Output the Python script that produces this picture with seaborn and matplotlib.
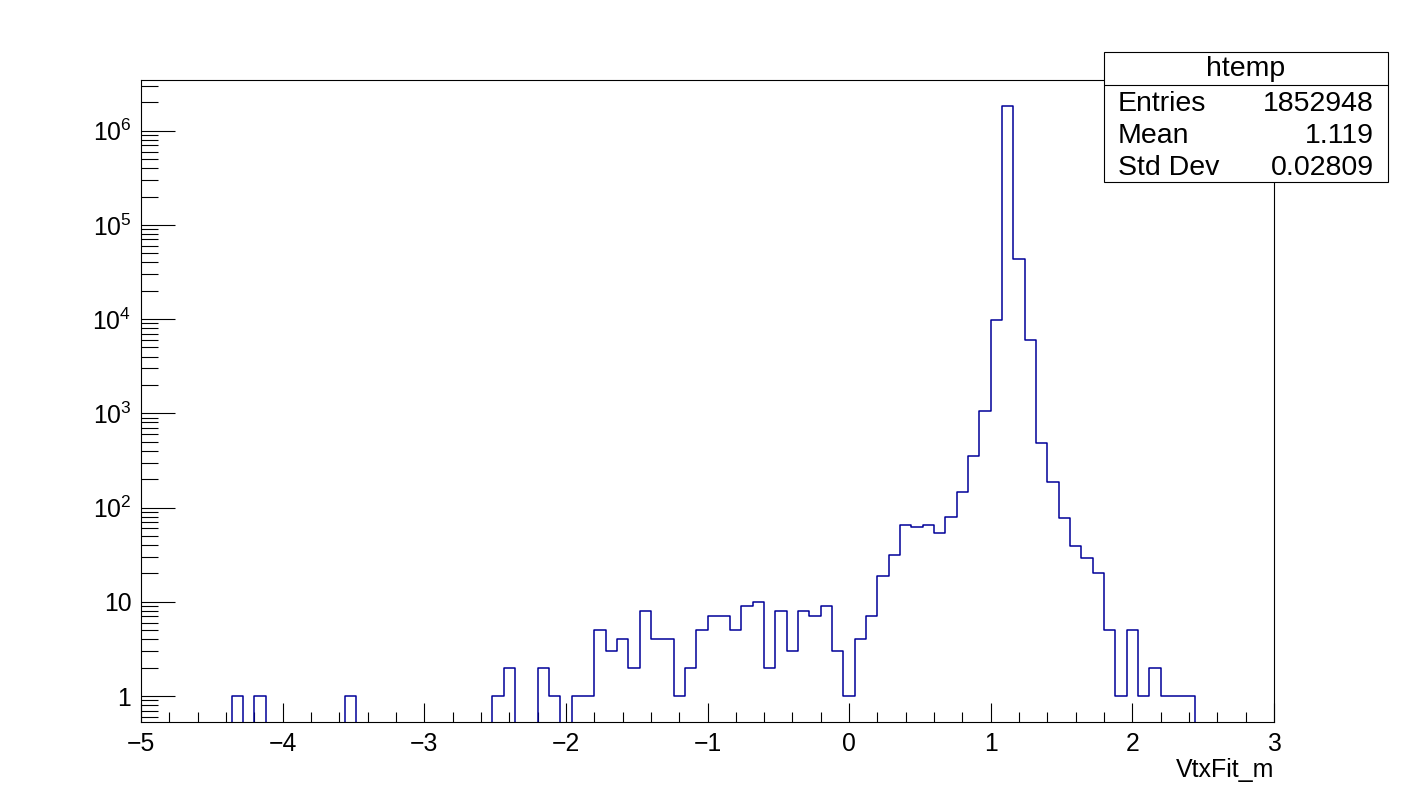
import numpy as np
import pandas as pd
import matplotlib
matplotlib.use("Agg")
import matplotlib.pyplot as plt
import matplotlib.ticker as mticker
from matplotlib.patches import Rectangle
import seaborn as sns

# histogram htemp: 100 bins of VtxFit_m between -5 and 3
x_lo, x_hi, n_bins = -5.0, 3.0, 100
counts = [
    0, 0, 0, 0, 0, 0, 0, 0, 1, 0,
    1, 0, 0, 0, 0, 0, 0, 0, 1, 0,
    0, 0, 0, 0, 0, 0, 0, 0, 0, 0,
    0, 1, 2, 0, 0, 2, 1, 0, 1, 1,
    5, 3, 4, 2, 8, 4, 4, 1, 2, 5,
    7, 7, 5, 9, 10, 2, 8, 3, 8, 7,
    9, 3, 1, 4, 7, 19, 31, 65, 62, 65,
    54, 79, 145, 350, 1050, 9800, 1830000, 43000, 6000, 480,
    186, 77, 39, 29, 20, 5, 1, 5, 1, 2,
    1, 1, 1, 0, 0, 0, 0, 0, 0, 0,
]

stats_title = "htemp"
stats_names = ["Entries", "Mean", "Std Dev"]
stats_values = ["1852948", "1.119", "0.02809"]

y_labels = ["1", "10", r"$\mathregular{10^{2}}$", r"$\mathregular{10^{3}}$",
            r"$\mathregular{10^{4}}$", r"$\mathregular{10^{5}}$", r"$\mathregular{10^{6}}$"]

sns.set_style("white")
plt.rcParams["font.family"] = ["Liberation Sans", "DejaVu Sans"]
plt.rcParams["mathtext.fontset"] = "custom"
plt.rcParams["mathtext.rm"] = "Liberation Sans"
for key in ["text.color", "axes.labelcolor", "xtick.color", "ytick.color"]:
    plt.rcParams[key] = "black"

edges = np.linspace(x_lo, x_hi, n_bins + 1)
df = pd.DataFrame({"VtxFit_m": 0.5 * (edges[:-1] + edges[1:]), "n": counts})

fig = plt.figure(figsize=(14.16, 8.05), dpi=100)
ax = fig.add_axes([141 / 1416, 1 - 722 / 805, (1274 - 141) / 1416, (722 - 80) / 805])

# bins as a list: seaborn compares bins == "auto" when weights are given
sns.histplot(data=df, x="VtxFit_m", weights="n", bins=list(edges), element="step",
             fill=False, color="#000099", linewidth=1.1, ax=ax)
ax.set_yscale("log")
ax.set_xlim(x_lo, x_hi)
ax.set_ylim(0.53, 3.45e6)

for s in ax.spines.values():
    s.set_linewidth(0.8)
    s.set_color("black")

ax.xaxis.set_major_locator(mticker.MultipleLocator(1))
ax.xaxis.set_minor_locator(mticker.MultipleLocator(0.2))
ax.yaxis.set_major_locator(mticker.FixedLocator([10.0 ** i for i in range(7)]))
ax.yaxis.set_major_formatter(mticker.FixedFormatter(y_labels))
ax.yaxis.set_minor_locator(mticker.LogLocator(base=10, subs=np.arange(2, 10), numticks=20))
ax.yaxis.set_minor_formatter(mticker.NullFormatter())

ax.tick_params(axis="x", which="major", direction="in", length=13.7, width=0.8,
               labelsize=17.8, pad=7, bottom=True, top=False)
ax.tick_params(axis="x", which="minor", direction="in", length=7.2, width=0.8,
               bottom=True, top=False)
ax.tick_params(axis="y", which="major", direction="in", length=24.5, width=0.8,
               labelsize=17.8, pad=7, left=True, right=False)
ax.tick_params(axis="y", which="minor", direction="in", length=12.2, width=0.8,
               left=True, right=False)

ax.set_ylabel("")
ax.set_xlabel("VtxFit_m", fontsize=18)
ax.xaxis.set_label_coords(1.0, (722 - 777) / 642)
ax.xaxis.label.set_ha("right")
ax.xaxis.label.set_va("baseline")

# stats box
bx0, bx1 = 1104 / 1416, 1388 / 1416
by0, by1 = 1 - 182 / 805, 1 - 52 / 805
fig.patches.append(Rectangle((bx0, by0), bx1 - bx0, by1 - by0, transform=fig.transFigure,
                             facecolor="white", edgecolor="black", linewidth=0.8, zorder=10))
fig.add_artist(plt.Line2D([bx0, bx1], [1 - 85 / 805] * 2, transform=fig.transFigure,
                          color="black", linewidth=0.8, zorder=11))
fig.text((bx0 + bx1) / 2, 1 - 69 / 805, stats_title, ha="center", va="center",
         fontsize=20.5, zorder=12)
for i, (name, val) in enumerate(zip(stats_names, stats_values)):
    yy = 1 - (104 + 32 * i) / 805
    fig.text(1118 / 1416, yy, name, ha="left", va="center", fontsize=20.5, zorder=12)
    fig.text(1374 / 1416, yy, val, ha="right", va="center", fontsize=20.5, zorder=12)

fig.savefig("out.png", dpi=100)
